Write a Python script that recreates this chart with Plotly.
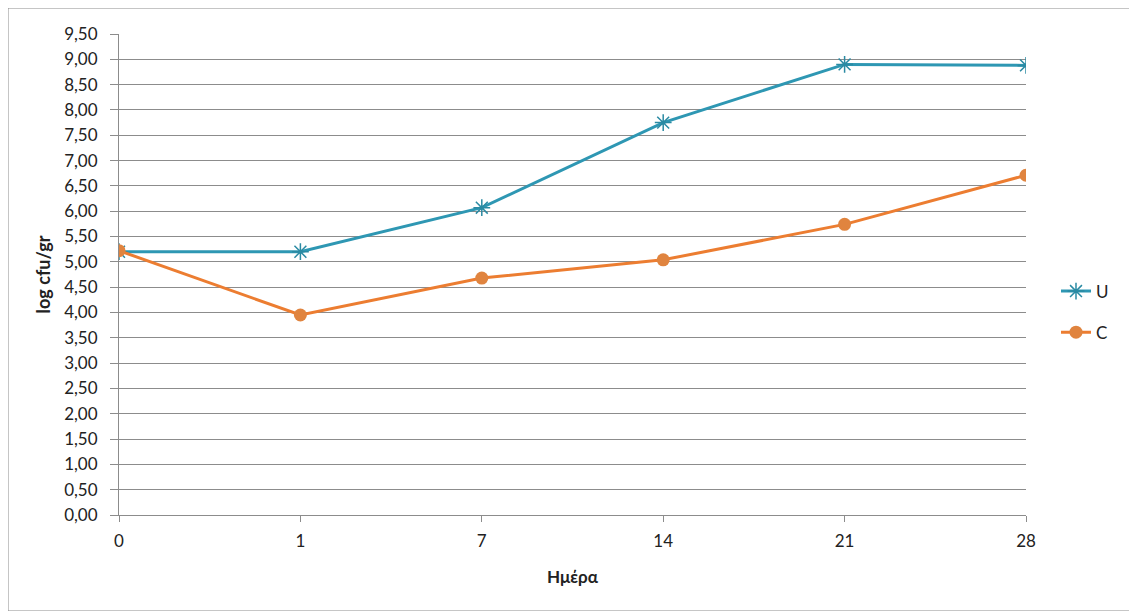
import plotly.graph_objects as go

days = ["0", "1", "7", "14", "21", "28"]
u_values = [5.20, 5.20, 6.07, 7.75, 8.90, 8.88]
c_values = [5.22, 3.95, 4.68, 5.04, 5.74, 6.71]
y_ticks = [i * 0.5 for i in range(20)]
y_tick_labels = [f"{v:.2f}".replace(".", ",") for v in y_ticks]

FONT = "Lato, Carlito, Open Sans"

OFF = 7  # page body offset
W, H = 1137 - OFF, 611 - OFF
L, T = 118 - OFF, 33 - OFF
R = W - (1025 - OFF)
B = H - (514 - OFF)
pw, ph = W - L - R, H - T - B

fig = go.Figure()
fig.add_trace(go.Scatter(
    x=days, y=u_values, name="U", mode="lines+markers", legendgroup="u",
    line=dict(color="#2E97B3", width=3),
    marker=dict(symbol="asterisk-open", size=14, color="#2A8AA3",
                line=dict(color="#2A8AA3", width=1.5)),
))
fig.add_trace(go.Scatter(
    x=days, y=c_values, name="C", mode="lines+markers", legendgroup="c",
    line=dict(color="#EC7D31", width=3),
    marker=dict(symbol="circle", size=13, color="#E0843F"),
))

fig.update_layout(
    width=W, height=H,
    margin=dict(l=L, r=R, t=T, b=B),
    paper_bgcolor="white", plot_bgcolor="white",
    font=dict(family=FONT, size=17, color="#222222"),
    xaxis=dict(
        type="category", range=[0, 5], showgrid=False,
        showline=True, linecolor="#8C8C8C", linewidth=1,
        ticks="outside", ticklen=6, tickcolor="#8C8C8C",
        tickfont=dict(size=17), zeroline=False, ticklabelstandoff=5,
        title=dict(text="<b>Ημέρα</b>", font=dict(size=17), standoff=20),
    ),
    yaxis=dict(
        range=[0, 9.5], tickvals=y_ticks, ticktext=y_tick_labels,
        showgrid=True, gridcolor="#8C8C8C", gridwidth=1,
        showline=True, linecolor="#8C8C8C", linewidth=1,
        ticks="outside", ticklen=8, tickcolor="#8C8C8C",
        tickfont=dict(size=17), zeroline=False, ticklabelstandoff=9,
        title=dict(text="<b>log cfu/gr</b>", font=dict(size=18), standoff=8),
    ),
    legend=dict(
        x=(1055 - 118) / pw, y=(514 - 311) / ph, xanchor="left", yanchor="middle",
        font=dict(size=17), tracegroupgap=16, bgcolor="rgba(0,0,0,0)",
    ),
    showlegend=True,
)

fig.add_shape(
    type="rect", xref="paper", yref="paper",
    x0=(7 - 118) / pw, x1=(1136 - 118) / pw,
    y0=(514 - 610) / ph, y1=(514 - 7) / ph,
    line=dict(color="#8C8C8C", width=1), fillcolor="rgba(0,0,0,0)", layer="below",
)

fig.write_html("out.html")
